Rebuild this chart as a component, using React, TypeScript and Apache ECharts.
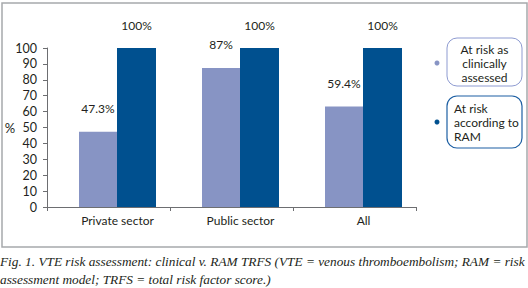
import React, { useEffect, useRef } from "react";
import * as echarts from "echarts";

const categories = ["Private sector", "Public sector", "All"];
const clinicalValues = [47.3, 87.5, 63.2];
const clinicalLabels = ["47.3%", "87%", "59.4%"];
const ramValues = [100, 100, 100];
const ramLabels = ["100%", "100%", "100%"];
const yTicks = [0, 10, 20, 30, 40, 50, 60, 70, 80, 90, 100];
const legendNames = ["At risk as\nclinically\nassessed", "At risk\naccording to\nRAM"];
const caption1 = "Fig. 1. VTE risk assessment: clinical v. RAM TRFS (VTE = venous thromboembolism; RAM = risk";
const caption2 = "assessment model; TRFS = total risk factor score.)";

const LIGHT = "#8794c4";
const DARK = "#00508f";
const FONT = "Lato";
const TXT = "#231f20";

export default function App() {
  const ref = useRef<HTMLDivElement>(null);
  useEffect(() => {
    const chart = echarts.init(ref.current!, null, { renderer: "svg" });
    const option: any = {
      animation: false,
      textStyle: { fontFamily: FONT, color: TXT },
      grid: [
        { left: 47, right: 112, top: 48, bottom: 81 },
        { left: 56, right: 103, top: 48, bottom: 81 },
      ],
      xAxis: [
        {
          type: "category",
          gridIndex: 0,
          data: categories,
          axisLine: { lineStyle: { color: "#6d6e71", width: 1 } },
          axisTick: { show: true, length: 4, lineStyle: { color: "#6d6e71" } },
          axisLabel: { show: false },
        },
        {
          type: "category",
          gridIndex: 1,
          data: categories,
          axisLine: { show: false },
          axisTick: { show: false },
          axisLabel: { fontFamily: FONT, fontSize: 12, color: TXT, margin: 7 },
        },
      ],
      yAxis: [
        {
          type: "value",
          gridIndex: 0,
          min: yTicks[0],
          max: yTicks[yTicks.length - 1],
          interval: 10,
          splitLine: { show: false },
          axisLine: { show: true, lineStyle: { color: "#6d6e71", width: 1 } },
          axisTick: { show: true, length: 4, lineStyle: { color: "#6d6e71" } },
          axisLabel: { fontFamily: FONT, fontSize: 12.5, color: TXT, margin: 10 },
        },
        {
          type: "value",
          gridIndex: 1,
          min: 0,
          max: 100,
          show: false,
          splitLine: { show: false },
        },
      ],
      series: [
        {
          type: "bar",
          xAxisIndex: 0,
          yAxisIndex: 0,
          data: [],
          silent: true,
        },
        {
          name: "clinical",
          type: "bar",
          xAxisIndex: 1,
          yAxisIndex: 1,
          barWidth: 38,
          barGap: "0%",
          itemStyle: { color: LIGHT },
          data: clinicalValues,
          label: {
            show: true,
            position: "top",
            distance: 17,
            fontFamily: FONT,
            fontSize: 12,
            color: TXT,
            formatter: (p: any) => clinicalLabels[p.dataIndex],
          },
        },
        {
          name: "ram",
          type: "bar",
          xAxisIndex: 1,
          yAxisIndex: 1,
          barWidth: 39,
          barGap: "0%",
          itemStyle: { color: DARK },
          data: ramValues,
          label: {
            show: true,
            position: "top",
            distance: 17,
            fontFamily: FONT,
            fontSize: 12,
            color: TXT,
            formatter: (p: any) => ramLabels[p.dataIndex],
          },
        },
      ],
      graphic: [
        {
          type: "rect",
          shape: { x: 2, y: 3, width: 525, height: 244 },
          style: { fill: "none", stroke: "#a7a9ac", lineWidth: 1.5 },
          z: -1,
        },
        {
          type: "text",
          x: 10,
          y: 128,
          style: { text: "%", font: `13px ${FONT}`, fill: TXT, textAlign: "center", textVerticalAlign: "middle" },
        },
        { type: "circle", shape: { cx: 437, cy: 63, r: 2.5 }, style: { fill: LIGHT } },
        { type: "circle", shape: { cx: 437, cy: 122, r: 2.5 }, style: { fill: DARK } },
        {
          type: "rect",
          shape: { x: 447, y: 38, width: 75, height: 48, r: 10 },
          style: { fill: "#fff", stroke: "#8e9bd1", lineWidth: 1 },
        },
        {
          type: "rect",
          shape: { x: 447, y: 96, width: 75, height: 52, r: 10 },
          style: { fill: "#fff", stroke: "#1d5fa3", lineWidth: 1.2 },
        },
        {
          type: "text",
          x: 484.5,
          y: 63,
          style: {
            text: legendNames[0],
            font: `12px ${FONT}`,
            fill: TXT,
            textAlign: "center",
            textVerticalAlign: "middle",
            lineHeight: 14,
          },
        },
        {
          type: "text",
          x: 454,
          y: 122,
          style: {
            text: legendNames[1],
            font: `12px ${FONT}`,
            fill: TXT,
            textAlign: "left",
            textVerticalAlign: "middle",
            lineHeight: 14,
          },
        },
        {
          type: "text",
          x: 0,
          y: 261,
          style: {
            text: caption1,
            font: `italic 13.3px "Liberation Serif"`,
            fill: TXT,
            textAlign: "left",
            textVerticalAlign: "middle",
          },
        },
        {
          type: "text",
          x: 0,
          y: 279,
          style: {
            text: caption2,
            font: `italic 13.3px "Liberation Serif"`,
            fill: TXT,
            textAlign: "left",
            textVerticalAlign: "middle",
          },
        },
      ],
    };
    chart.setOption(option);
    return () => chart.dispose();
  }, []);
  return (
    <div
      ref={ref}
      style={{ position: "fixed", left: 0, top: 0, width: 528, height: 288, background: "#fff" }}
    />
  );
}
